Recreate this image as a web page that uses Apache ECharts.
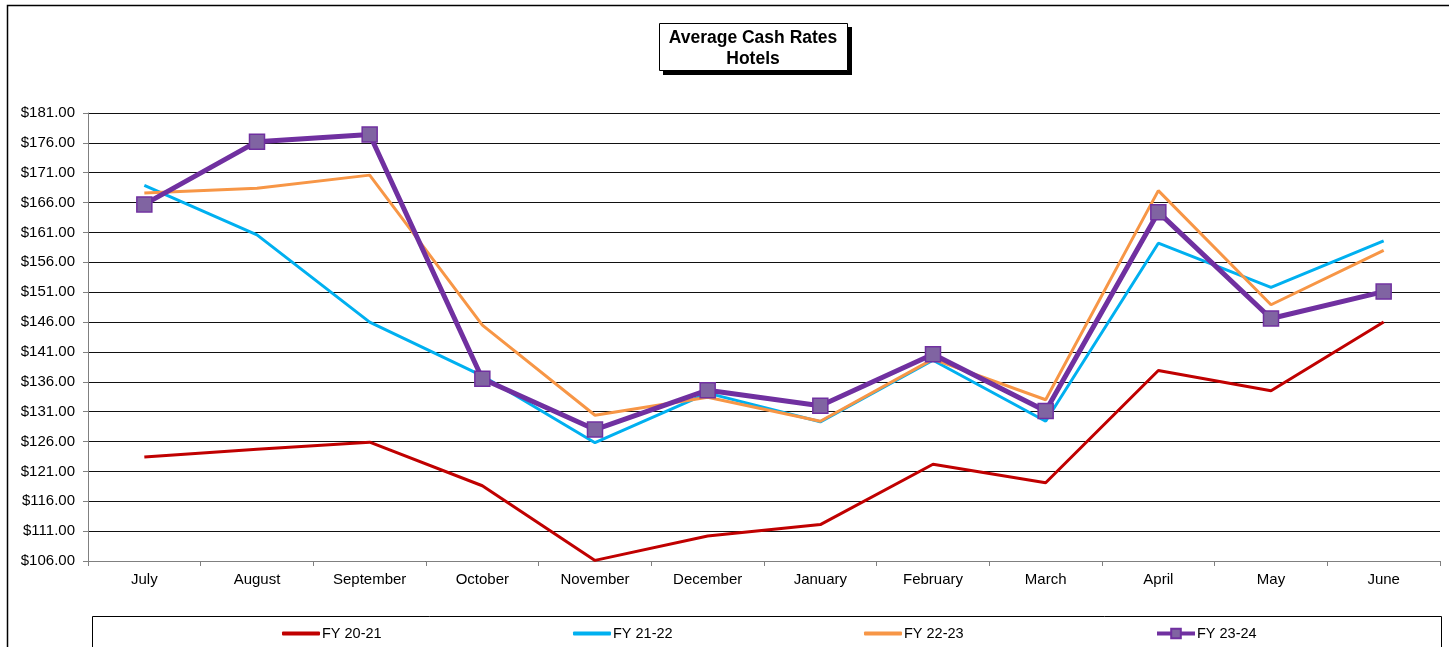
<!DOCTYPE html>
<html>
<head>
<meta charset="utf-8">
<title>Average Cash Rates Hotels</title>
<script src="https://cdn.jsdelivr.net/npm/echarts@6/dist/echarts.min.js"></script>
<style>
  html, body { margin: 0; padding: 0; background: #fff; }
  #chart { width: 1449px; height: 647px; }
</style>
</head>
<body>
<div id="chart"></div>
<script>
// months on the x axis
var months = ['July', 'August', 'September', 'October', 'November', 'December',
  'January', 'February', 'March', 'April', 'May', 'June'];

// average cash rate per financial year
var fy2021 = [123.4, 124.7, 125.9, 118.6, 106.1, 110.2, 112.1, 122.2, 119.1, 137.9, 134.5, 146.0];
var fy2122 = [168.9, 160.6, 146.0, 137.0, 125.8, 134.1, 129.3, 139.6, 129.4, 159.2, 151.8, 159.6];
var fy2223 = [167.6, 168.4, 170.6, 145.5, 130.4, 133.4, 129.4, 139.8, 133.0, 168.0, 148.9, 158.0];
var fy2324 = [165.7, 176.2, 177.4, 136.5, 128.0, 134.6, 132.0, 140.6, 131.1, 164.4, 146.6, 151.1];

var seriesNames = ['FY 20-21', 'FY 21-22', 'FY 22-23', 'FY 23-24'];

var font = "'Liberation Sans', Arial, sans-serif";

var chart = echarts.init(document.getElementById('chart'));

// one legend per item so each sits where it does in the original
var legendLeft = [282, 573, 864, 1155];
var legends = seriesNames.map(function (name, i) {
  var plain = i < 3;
  return {
    data: [plain ? { name: name, icon: 'roundRect' } : name],
    left: legendLeft[i],
    top: 626,
    padding: 0,
    itemWidth: 38,
    itemHeight: plain ? 4 : 12,
    itemGap: 2,
    lineStyle: plain ? undefined : { width: 4 },
    textStyle: {
      fontFamily: font, fontSize: 14.5, color: '#000',
      padding: [0, 0, 0, -3]
    }
  }
});

chart.setOption({
  animation: false,
  backgroundColor: '#fff',
  legend: legends,
  grid: { left: 88, right: 9, top: 113, bottom: 86 },
  xAxis: {
    type: 'category',
    data: months,
    boundaryGap: true,
    axisLine: { lineStyle: { color: '#808080', width: 1 } },
    axisTick: { show: true, length: 5, lineStyle: { color: '#808080' } },
    axisLabel: { fontFamily: font, fontSize: 15, color: '#000', margin: 11 }
  },
  yAxis: {
    type: 'value',
    min: 106,
    max: 181,
    interval: 5,
    axisLine: { show: true, lineStyle: { color: '#808080', width: 1 } },
    axisTick: { show: true, length: 5, lineStyle: { color: '#808080' } },
    axisLabel: {
      fontFamily: font, fontSize: 15, color: '#000', margin: 13,
      formatter: function (v) { return '$' + v.toFixed(2) }
    },
    splitLine: { lineStyle: { color: '#111', width: 1 } }
  },
  series: [
    {
      name: seriesNames[0], type: 'line', data: fy2021,
      symbol: 'none', lineStyle: { color: '#C00000', width: 3 },
      itemStyle: { color: '#C00000' }
    },
    {
      name: seriesNames[1], type: 'line', data: fy2122,
      symbol: 'none', lineStyle: { color: '#00B0F0', width: 3 },
      itemStyle: { color: '#00B0F0' }
    },
    {
      name: seriesNames[2], type: 'line', data: fy2223,
      symbol: 'none', lineStyle: { color: '#F79646', width: 3 },
      itemStyle: { color: '#F79646' }
    },
    {
      name: seriesNames[3], type: 'line', data: fy2324,
      symbol: 'rect', symbolSize: 15, showSymbol: true,
      lineStyle: { color: '#7030A0', width: 5 },
      itemStyle: { color: '#8064A2', borderColor: '#7030A0', borderWidth: 1.5 },
      z: 5
    }
  ],
  graphic: [
    // outer chart frame
    {
      type: 'rect', silent: true, z: -1,
      shape: { x: 7.5, y: 5.5, width: 1500, height: 700 },
      style: { fill: 'none', stroke: '#000', lineWidth: 1.5 }
    },
    // legend frame
    {
      type: 'rect', silent: true, z: -1,
      shape: { x: 92.5, y: 616.5, width: 1349, height: 60 },
      style: { fill: 'none', stroke: '#000', lineWidth: 1 }
    },
    // title box with hard shadow
    {
      type: 'group',
      children: [
        {
          type: 'rect',
          shape: { x: 663, y: 27, width: 189, height: 48 },
          style: { fill: '#000' }
        },
        {
          type: 'rect',
          shape: { x: 659.5, y: 23.5, width: 188, height: 47 },
          style: { fill: '#fff', stroke: '#000', lineWidth: 1 }
        },
        {
          type: 'text',
          x: 753, y: 48.5,
          style: {
            text: 'Average Cash Rates\nHotels',
            fontFamily: font, fontSize: 17.5, fontWeight: 'bold',
            lineHeight: 21, fill: '#000',
            align: 'center', verticalAlign: 'middle'
          }
        }
      ]
    }
  ]
});
</script>
</body>
</html>
